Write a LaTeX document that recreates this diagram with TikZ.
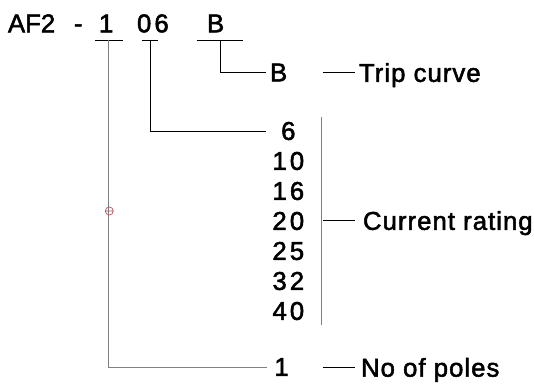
\documentclass[tikz,border=0pt]{standalone}
\usepackage{fontspec}
\setmainfont{Liberation Sans}[FakeBold=2]
\newfontfamily\digitfont{Liberation Sans}[LetterSpace=12, FakeBold=2]
\newfontfamily\capfont{Liberation Sans}[LetterSpace=4, FakeBold=2]
\definecolor{markred}{RGB}{170,80,90}
\tikzset{
  code/.style={inner sep=0pt, outer sep=0pt, anchor=base west, font=\fontsize{19.3}{21}\selectfont},
  tag/.style={inner sep=0pt, outer sep=3pt, anchor=west, font=\fontsize{19.3}{21}\selectfont},
  rating/.style={inner sep=0pt, outer sep=3pt, minimum width=27.5pt, font=\fontsize{19.3}{21}\digitfont},
  caption/.style={inner sep=0pt, outer sep=3pt, anchor=west, text depth=0pt, font=\fontsize{19.3}{21}\capfont},
  elbow/.style={line width=0.7pt},
  polewire/.style={line width=0.7pt, gray}
}
\begin{document}
\begin{tikzpicture}[x=0.75pt, y=-0.75pt]
                \useasboundingbox (0,0) rectangle (534,386);
                \node[code] (model) at (8,32.3) {AF2};
                \node[code] (sep) at (74,32.3) {-};
                \node[code, font=\fontsize{19.3}{21}\digitfont] (poles) at (99,32.3) {1};
                \node[code, font=\fontsize{19.3}{21}\digitfont] (amps) at (137,32.3) {06};
                \node[code] (curve) at (207,32.3) {B};
                \draw[elbow] (95,40) -- (123.3,40);
                \draw[elbow] (141.7,40) -- (158.3,40);
                \draw[elbow] (196.7,40) -- (243.3,40);
                \coordinate (polestem) at (108.3,40);
                \coordinate (ampstem) at (150.7,40);
                \coordinate (curvestem) at (220.7,40);
                \node[tag] (curveval) at (266,72.5) {B};
                \foreach \amp [count=\i from 0] in {6,10,16,20,25,32,40}
                    \node[rating] (r\amp) at (288.3,{131+30*\i}) {\amp};
                \node[tag, inner xsep=2.5pt, font=\fontsize{19.3}{21}\digitfont] (poleval) at (267,367) {1};
                \draw[elbow] (curvestem) |- (curveval.west);
                \draw[elbow] (ampstem) |- (r6.west);
                \draw[polewire] (polestem) |- (poleval.west);
                \coordinate (bartop) at (321.7,117.3);
                \coordinate (barbot) at (321.7,325);
                \draw[polewire] (bartop) -- (barbot);
                \coordinate (tripdash) at (322.7,72.5);
                \node[caption] (trip) at (355,72.5) {Trip curve};
                \draw[elbow] (tripdash) -- (trip.west);
                \coordinate (ratingdash) at (322.7,220.5);
                \node[caption] (rating) at (359,220.5) {Current rating};
                \draw[elbow, shorten >=3pt] (ratingdash) -- (rating.west);
                \coordinate (polesdash) at (322.7,367.3);
                \node[caption] (polecap) at (357,367.3) {No of poles};
                \draw[elbow, shorten >=1.5pt] (polesdash) -- (polecap.west);
                \draw[markred, line width=0.5pt] (109.3,211) circle[radius=3pt] (105.3,211) -- (113.3,211);
            \end{tikzpicture}
\end{document}
